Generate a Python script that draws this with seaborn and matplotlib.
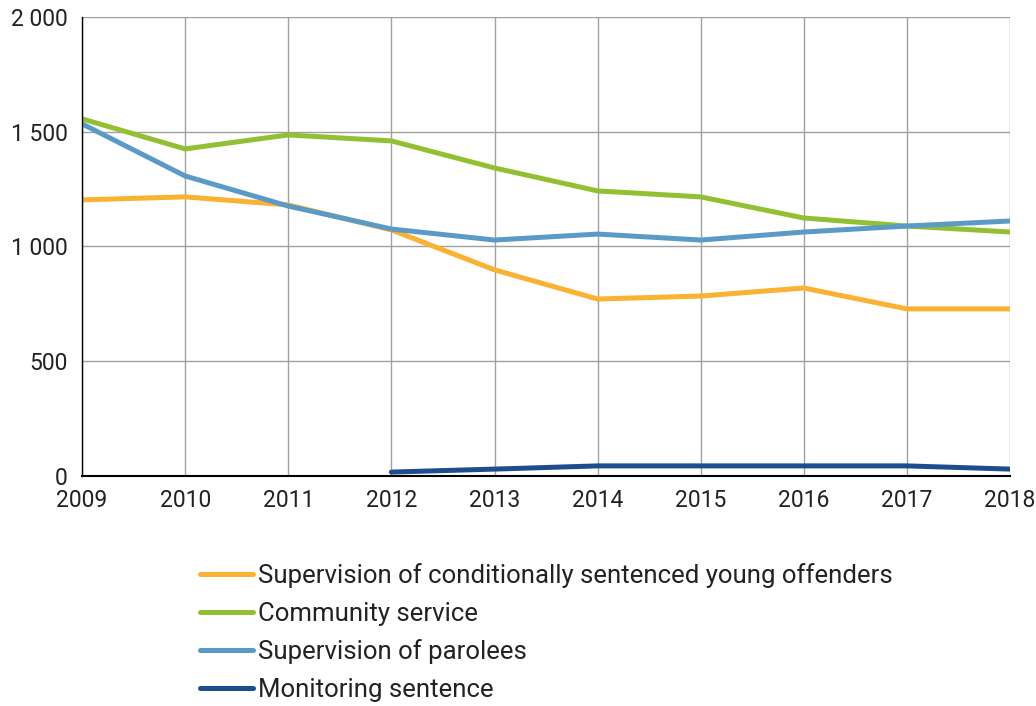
import pandas as pd
import seaborn as sns
from matplotlib import pyplot as plt
from matplotlib.ticker import FuncFormatter

years = [2009, 2010, 2011, 2012, 2013, 2014, 2015, 2016, 2017, 2018]
young_offenders = [1203, 1216, 1181, 1072, 898, 771, 784, 819, 728, 728]
community_service = [1556, 1425, 1486, 1460, 1342, 1242, 1216, 1124, 1089, 1063]
parolees = [1534, 1307, 1176, 1076, 1028, 1054, 1028, 1063, 1089, 1111]
monitoring_years = [2012, 2013, 2014, 2015, 2016, 2017, 2018]
monitoring = [17, 30, 44, 44, 44, 44, 30]

series_names = ['Supervision of conditionally sentenced young offenders',
                'Community service',
                'Supervision of parolees',
                'Monitoring sentence']
colors = ['#FBB131', '#93C032', '#5A9AC6', '#1D4D8F']

df = pd.concat([
    pd.DataFrame({'year': years, 'value': young_offenders, 'series': series_names[0]}),
    pd.DataFrame({'year': years, 'value': community_service, 'series': series_names[1]}),
    pd.DataFrame({'year': years, 'value': parolees, 'series': series_names[2]}),
    pd.DataFrame({'year': monitoring_years, 'value': monitoring, 'series': series_names[3]}),
])

sns.set_style('white')
plt.rcParams['font.family'] = ['Roboto', 'DejaVu Sans']

fig = plt.figure(figsize=(10.36, 7.06), dpi=100)
ax = fig.add_axes([0.0792, 0.3258, 0.8958, 0.6502])

sns.lineplot(data=df, x='year', y='value', hue='series', hue_order=series_names,
             palette=colors, linewidth=3.6, ax=ax, legend=True)

ax.set_xlim(2009, 2018)
ax.set_ylim(0, 2000)
ax.set_xticks(years)
ax.set_yticks([0, 500, 1000, 1500, 2000])
ax.yaxis.set_major_formatter(FuncFormatter(lambda v, p: f'{int(v):,}'.replace(',', ' ')))
ax.grid(True, color='#A0A0A0', linewidth=1)
ax.set_axisbelow(True)
ax.set_xlabel('')
ax.set_ylabel('')
for s in ['top', 'right']:
    ax.spines[s].set_visible(False)
ax.spines['left'].set_color('black')
ax.spines['bottom'].set_color('black')
ax.spines['left'].set_linewidth(1)
ax.spines['bottom'].set_linewidth(1.5)
ax.tick_params(axis='both', labelsize=16.5, colors='black', length=3.5, width=1,
               direction='out', labelcolor='#222222')
ax.tick_params(axis='x', pad=6)
ax.tick_params(axis='y', pad=7)

ax.legend(loc='upper left', bbox_to_anchor=(0.116, -0.168), frameon=False,
          fontsize=18.5, handlelength=2.06, handletextpad=0.2, labelspacing=0.53,
          borderaxespad=0, labelcolor='#222222')

fig.savefig('out.png', dpi=100)
